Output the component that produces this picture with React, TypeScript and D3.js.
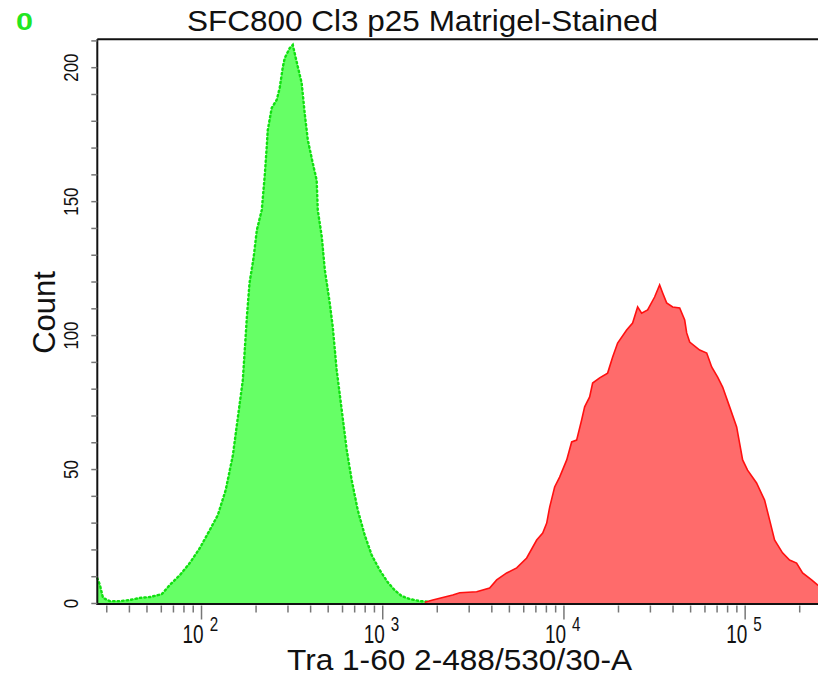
import * as d3 from 'd3'

// histogram of the control sample: [intensity], [count]
const greenIntensity = [26.6, 27.5, 28.6, 31.2, 35.4, 40.2, 45.7, 51.9, 60.4, 66.8, 75.9, 86.1, 97.9, 111, 123, 136, 149, 158, 169, 178, 184, 194, 202, 215, 223, 229, 232, 244, 260, 270, 281, 288, 307, 319, 336, 357, 371, 386, 411, 432, 438, 461, 479, 510, 530, 557, 594, 633, 674, 728, 795, 869, 962, 1064, 1163, 1272, 1408, 1599, 1863, 2061]
const greenCount = [9.5, 6.9, 2.1, 0.9, 0.9, 1.3, 2.1, 2.4, 3.5, 6.9, 10.6, 15.1, 20.7, 27.4, 33, 42.4, 55.4, 68.5, 83.4, 107, 119.6, 129.3, 139.4, 146.9, 159.2, 170.4, 176.7, 185, 188, 192.4, 200.3, 203.6, 207.4, 208.5, 201.8, 194.3, 183, 173, 164.4, 158, 146.9, 136.9, 124.6, 112.2, 103.2, 87.2, 72.2, 57.3, 46.1, 34.9, 25.6, 18.1, 12.5, 8.0, 5.0, 2.8, 1.7, 0.9, 0.6, 0]

// stained sample
const redIntensity = [1706, 1889, 2434, 2661, 3299, 3890, 4254, 4831, 5486, 6229, 7073, 7636, 8034, 8343, 8886, 9465, 10360, 11030, 11750, 12520, 13010, 13860, 14400, 15740, 17420, 18570, 19780, 22180, 23930, 25510, 26830, 28960, 31650, 33730, 35060, 36880, 39810, 43520, 46380, 47570, 49420, 56120, 61360, 65350, 70510, 75130, 82100, 89760, 96850, 103100, 115600, 128000, 136400, 145300, 160800, 175800, 192200, 207500, 232600, 251300, 262144]
const redCount = [0.5, 1.3, 3.2, 4.0, 4.4, 5.8, 8.8, 11.4, 13.3, 17.0, 23.7, 26.3, 30.0, 36.0, 43.5, 47.2, 53.6, 60.3, 61.0, 68.5, 73.4, 77.1, 82.3, 84.2, 86.0, 92.0, 97.2, 102.1, 104.7, 110.7, 108.4, 109.6, 114.4, 118.9, 115.9, 112.2, 110.7, 110.3, 105.8, 101.0, 97.6, 94.6, 93.5, 88.3, 84.5, 80.8, 73.4, 65.9, 53.6, 49.8, 45.0, 38.6, 31.2, 23.7, 18.9, 16.2, 15.1, 11.4, 8.8, 6.9, 6.5]

const yLabels = [0, 50, 100, 150, 200]
const xDomain: [number, number] = [26.6, 262144]
const yMax = 210.6

const TITLE = 'SFC800 Cl3 p25 Matrigel-Stained'
const X_TITLE = 'Tra 1-60 2-488/530/30-A'
const Y_TITLE = 'Count'

const W = 818
const H = 675
const L = 97.3, R = 821, T = 39.3, B = 603.5
const FONT = 'Arial, "Liberation Sans", sans-serif'
const SX = 0.76 // tick labels are drawn narrow

export default function App() {
  const x = d3.scaleLog().domain(xDomain).range([L, R])
  const y = d3.scaleLinear().domain([0, yMax]).range([B, T])

  const green = greenIntensity.map((v, i) => [v, greenCount[i]] as [number, number])
  const red = redIntensity.map((v, i) => [v, redCount[i]] as [number, number])

  const area = d3.area<[number, number]>().x((d) => x(d[0])).y0(y(0)).y1((d) => y(d[1]))
  const line = d3.line<[number, number]>().x((d) => x(d[0])).y((d) => y(d[1]))

  const xTicks = x.ticks()
  const isMajor = (v: number) => Math.abs(Math.log10(v) - Math.round(Math.log10(v))) < 1e-6
  const yTicks = y.ticks(20)

  return (
    <svg width={W} height={H} style={{ position: 'absolute', left: 0, top: 0, background: '#fff' }} fontFamily={FONT}>
      <rect width={W} height={H} fill="#fff" />

      {/* histograms */}
      <path d={area(green) ?? ''} fill="#66ff66" />
      <path d={line(green) ?? ''} fill="none" stroke="#11e011" strokeWidth={2.4} strokeDasharray="1.5 3" strokeLinecap="round" />
      <path d={area(red) ?? ''} fill="#ff6b6b" />
      <path d={line(red) ?? ''} fill="none" stroke="#ff1010" strokeWidth={1.6} />

      {/* frame */}
      <line x1={L} x2={W} y1={T} y2={T} stroke="#111" strokeWidth={2} />
      <line x1={L} x2={L} y1={T} y2={B + 1} stroke="#111" strokeWidth={2} />
      <line x1={L - 1} x2={W} y1={B + 0.5} y2={B + 0.5} stroke="#111" strokeWidth={2} />

      {/* y ticks */}
      {yTicks.map((t) => (
        <line key={'yt' + t} x1={L - 6} x2={L} y1={y(t)} y2={y(t)} stroke="#777" strokeWidth={1.5} />
      ))}
      {yLabels.map((t) => (
        <text key={'yl' + t} transform={`translate(78,${y(t)}) rotate(-90) scale(0.8,1)`}
          textAnchor="middle" fontSize={21} fill="#111">{t}</text>
      ))}

      {/* x ticks */}
      {xTicks.map((t) => (
        <line key={'xt' + t} x1={x(t)} x2={x(t)} y1={B + 2} y2={B + (isMajor(t) ? 16 : 9)} stroke="#777" strokeWidth={1.5} />
      ))}
      {xTicks.filter(isMajor).map((t) => (
        <text key={'xl' + t} transform={`translate(${x(t) - 19},643) scale(${SX},1)`} fontSize={25} fill="#111">
          10<tspan dx={6 / SX} dy={-12} fontSize={20}>{Math.round(Math.log10(t))}</tspan>
        </text>
      ))}

      {/* titles */}
      <text x={187} y={31} fontSize={29} textLength={471} lengthAdjust="spacingAndGlyphs" fill="#111">{TITLE}</text>
      <text x={287} y={670} fontSize={30} textLength={345} lengthAdjust="spacingAndGlyphs" fill="#111">{X_TITLE}</text>
      <text transform={`translate(55,312.5) rotate(-90)`} textAnchor="middle" fontSize={31} fill="#111">{Y_TITLE}</text>

      <text x={16} y={30} fontSize={24} fontWeight="bold" textLength={17} lengthAdjust="spacingAndGlyphs" fill="#22e622">0</text>
    </svg>
  )
}
